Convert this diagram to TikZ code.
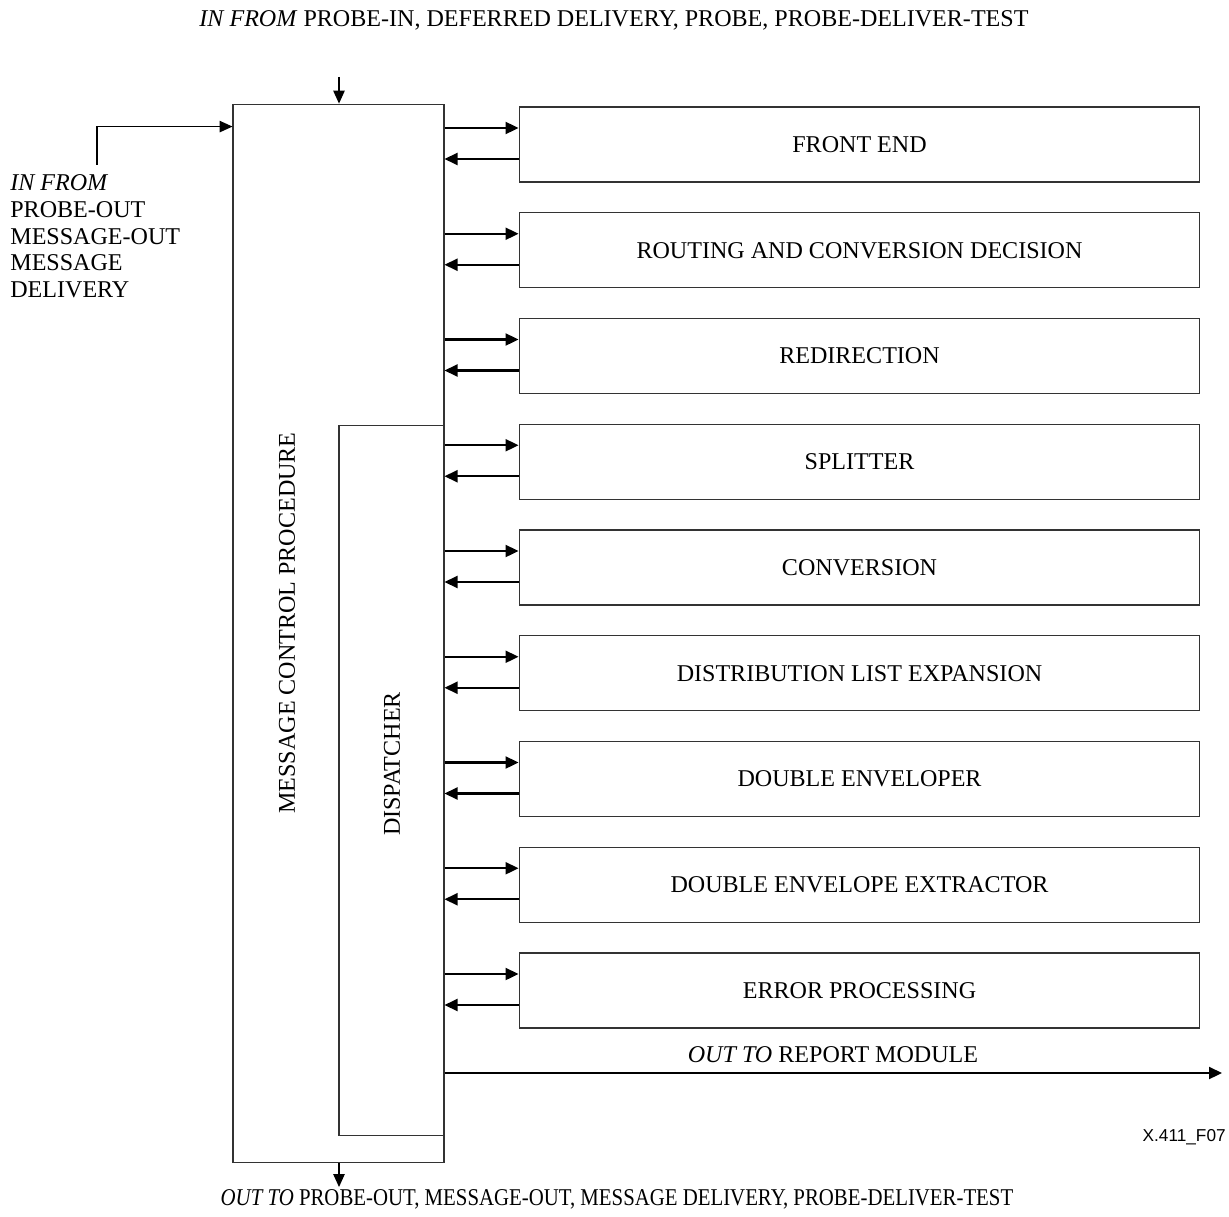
\documentclass[tikz,border=0pt]{standalone}
\usepackage{fontspec}
\setmainfont{Liberation Serif}
\newfontfamily\labelsans{Liberation Sans}
\usetikzlibrary{arrows.meta}
\begin{document}
\begin{tikzpicture}[x=0.02cm,y=-0.02cm,
    every node/.style={font=\fontsize{13.7}{15.3}\selectfont},
    box/.style={draw=black!80,line width=0.6pt,minimum width=13.62cm,minimum height=1.5cm,inner sep=0pt},
    arr/.style={line width=1.2pt,-{Triangle[length=2.6mm,width=2.4mm]}},
    thinarr/.style={line width=0.7pt,-{Triangle[length=2.6mm,width=2.3mm]}}]
  \useasboundingbox (0,0) rectangle (1229,1216);
  % control procedure and dispatcher
  \node[draw=black!80,line width=0.6pt,minimum width=4.22cm,minimum height=21.18cm,inner sep=0pt] (mcp) at (338.5,633.5) {};
  \node[draw=black!80,line width=0.6pt,minimum width=2.1cm,minimum height=14.22cm,inner sep=0pt] (disp) at (391.5,780.5) {};
  \node[rotate=90] (mcplabel) at (287,623) {MESSAGE CONTROL PROCEDURE};
  \node[rotate=90] (displabel) at (392,764) {DISPATCHER};
  % modules
  \node[box] (fe) at (859.5,144.5) {FRONT END};
  \node[box] (rcd) at (859.5,250.25) {ROUTING AND CONVERSION DECISION};
  \node[box] (redir) at (859.5,356) {REDIRECTION};
  \node[box] (split) at (859.5,461.75) {SPLITTER};
  \node[box] (conv) at (859.5,567.5) {CONVERSION};
  \node[box] (dle) at (859.5,673.25) {DISTRIBUTION LIST EXPANSION};
  \node[box] (denv) at (859.5,779) {DOUBLE ENVELOPER};
  \node[box] (dext) at (859.5,884.75) {DOUBLE ENVELOPE EXTRACTOR};
  \node[box] (err) at (859.5,990.5) {ERROR PROCESSING};
  \draw[arr] ([yshift=0.33cm]fe.west -| mcp.east) -- ([yshift=0.33cm]fe.west);
  \draw[arr] ([yshift=-0.29cm]fe.west) -- ([yshift=-0.29cm]fe.west -| mcp.east);
  \draw[arr] ([yshift=0.33cm]rcd.west -| mcp.east) -- ([yshift=0.33cm]rcd.west);
  \draw[arr] ([yshift=-0.29cm]rcd.west) -- ([yshift=-0.29cm]rcd.west -| mcp.east);
  \draw[arr] ([yshift=0.33cm]redir.west -| mcp.east) -- ([yshift=0.33cm]redir.west);
  \draw[arr] ([yshift=-0.29cm]redir.west) -- ([yshift=-0.29cm]redir.west -| mcp.east);
  \draw[arr] ([yshift=0.33cm]split.west -| mcp.east) -- ([yshift=0.33cm]split.west);
  \draw[arr] ([yshift=-0.29cm]split.west) -- ([yshift=-0.29cm]split.west -| mcp.east);
  \draw[arr] ([yshift=0.33cm]conv.west -| mcp.east) -- ([yshift=0.33cm]conv.west);
  \draw[arr] ([yshift=-0.29cm]conv.west) -- ([yshift=-0.29cm]conv.west -| mcp.east);
  \draw[arr] ([yshift=0.33cm]dle.west -| mcp.east) -- ([yshift=0.33cm]dle.west);
  \draw[arr] ([yshift=-0.29cm]dle.west) -- ([yshift=-0.29cm]dle.west -| mcp.east);
  \draw[arr] ([yshift=0.33cm]denv.west -| mcp.east) -- ([yshift=0.33cm]denv.west);
  \draw[arr] ([yshift=-0.29cm]denv.west) -- ([yshift=-0.29cm]denv.west -| mcp.east);
  \draw[arr] ([yshift=0.33cm]dext.west -| mcp.east) -- ([yshift=0.33cm]dext.west);
  \draw[arr] ([yshift=-0.29cm]dext.west) -- ([yshift=-0.29cm]dext.west -| mcp.east);
  \draw[arr] ([yshift=0.33cm]err.west -| mcp.east) -- ([yshift=0.33cm]err.west);
  \draw[arr] ([yshift=-0.29cm]err.west) -- ([yshift=-0.29cm]err.west -| mcp.east);
  % inputs and outputs
  \node (intop) at (614,20) {\textit{IN FROM} PROBE-IN, DEFERRED DELIVERY, PROBE, PROBE-DELIVER-TEST};
  \coordinate (topin) at (339,77);
  \draw[thinarr] (topin) -- (topin |- mcp.north);
  \node[anchor=north west,align=left,inner sep=0pt] (inleft) at (10,174)
    {\textit{IN FROM}\\PROBE-OUT\\MESSAGE-OUT\\MESSAGE\\DELIVERY};
  \coordinate (leftin) at (97,165);
  \draw[thinarr] (leftin) |- ([yshift=-0.46cm]mcp.north west);
  \coordinate (rep) at (1222,1073);
  \draw[arr] (rep -| disp.east) -- (rep);
  \node (replabel) at (833,1055) {\textit{OUT TO} REPORT MODULE};
  \coordinate (botout) at (339,1187);
  \draw[thinarr] (botout |- mcp.south) -- (botout);
  \node (outbot) at (617,1199) {\scalebox{0.865}[1]{\textit{OUT TO} PROBE-OUT, MESSAGE-OUT, MESSAGE DELIVERY, PROBE-DELIVER-TEST}};
  \node[anchor=east,inner sep=0pt,font=\labelsans\fontsize{9.8}{11}\selectfont] (figid) at (1226,1137) {X.411\_F07};
\end{tikzpicture}
\end{document}
